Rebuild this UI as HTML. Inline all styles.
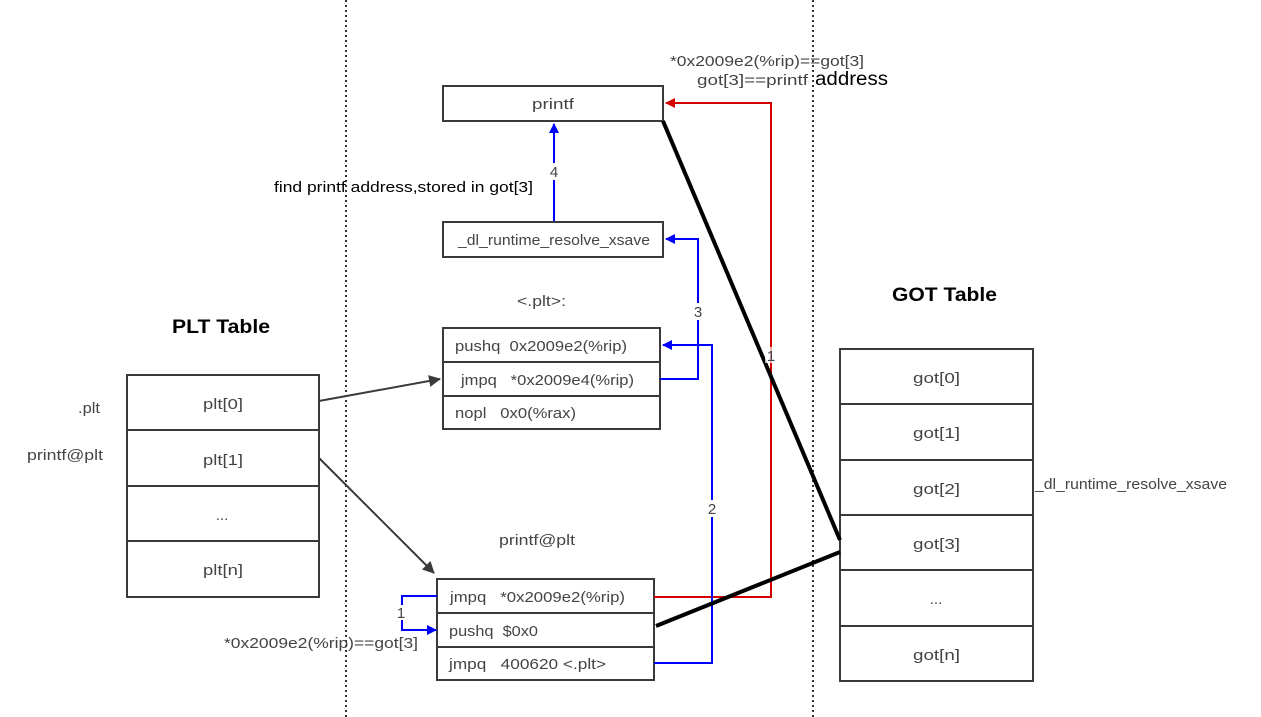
<!DOCTYPE html>
<html><head><meta charset="utf-8"><style>
html,body{margin:0;padding:0;background:#fff;}
svg{display:block;font-family:"Liberation Sans","DejaVu Sans",sans-serif;}
text{white-space:pre;}
.t{fill:#444;font-size:15px;text-anchor:middle;}
.l{fill:#444;font-size:15px;}
.box{fill:#fff;stroke:#3a3a3a;stroke-width:2;}
</style></head><body>
<svg width="1261" height="717" viewBox="0 0 1261 717" xmlns="http://www.w3.org/2000/svg" xml:space="preserve">
<defs>
<marker id="ab" markerWidth="10" markerHeight="10" refX="9" refY="5" orient="auto" markerUnits="userSpaceOnUse"><path d="M0,0 L10,5 L0,10 z" fill="#0000ff"/></marker>
<marker id="ar" markerWidth="10" markerHeight="10" refX="9" refY="5" orient="auto" markerUnits="userSpaceOnUse"><path d="M0,0 L10,5 L0,10 z" fill="#d40000"/></marker>
<marker id="ag" markerWidth="12" markerHeight="12" refX="11" refY="6" orient="auto" markerUnits="userSpaceOnUse"><path d="M0,0 L12,6 L0,12 z" fill="#3a3a3a"/></marker>
</defs>
<line x1="346" y1="0" x2="346" y2="717" stroke="#333" stroke-width="2" stroke-dasharray="2,3"/>
<line x1="813" y1="0" x2="813" y2="717" stroke="#333" stroke-width="2" stroke-dasharray="2,3"/>

<text class="l" x="670" y="66" textLength="194" lengthAdjust="spacingAndGlyphs">*0x2009e2(%rip)==got[3]</text>
<text class="l" x="697" y="85" textLength="111" lengthAdjust="spacingAndGlyphs">got[3]==printf</text>
<text x="815" y="85" font-size="19" fill="#000" textLength="73" lengthAdjust="spacingAndGlyphs">address</text>

<rect class="box" x="443" y="86" width="220" height="35"/>
<text class="t" x="553" y="109" textLength="42" lengthAdjust="spacingAndGlyphs">printf</text>
<rect class="box" x="443" y="222" width="220" height="35"/>
<text class="l" x="458" y="245" textLength="192" lengthAdjust="spacingAndGlyphs">_dl_runtime_resolve_xsave</text>
<text x="274" y="192" font-size="15" fill="#000" textLength="259" lengthAdjust="spacingAndGlyphs">find printf address,stored in got[3]</text>
<text class="l" x="517" y="306" textLength="49" lengthAdjust="spacingAndGlyphs">&lt;.plt&gt;:</text>

<rect class="box" x="443" y="328" width="217" height="101"/>
<line x1="443" y1="362" x2="660" y2="362" stroke="#3a3a3a" stroke-width="2"/>
<line x1="443" y1="396" x2="660" y2="396" stroke="#3a3a3a" stroke-width="2"/>
<text class="l" x="455" y="351" textLength="172" lengthAdjust="spacingAndGlyphs">pushq  0x2009e2(%rip)</text>
<text class="l" x="461" y="385" textLength="173" lengthAdjust="spacingAndGlyphs">jmpq   *0x2009e4(%rip)</text>
<text class="l" x="455" y="418" textLength="121" lengthAdjust="spacingAndGlyphs">nopl   0x0(%rax)</text>

<text x="172" y="333" font-size="19" font-weight="bold" fill="#000" textLength="98" lengthAdjust="spacingAndGlyphs">PLT Table</text>
<rect class="box" x="127" y="375" width="192" height="222"/>
<line x1="127" y1="430" x2="319" y2="430" stroke="#3a3a3a" stroke-width="2"/>
<line x1="127" y1="486" x2="319" y2="486" stroke="#3a3a3a" stroke-width="2"/>
<line x1="127" y1="541" x2="319" y2="541" stroke="#3a3a3a" stroke-width="2"/>
<text class="l" x="203" y="409" textLength="40" lengthAdjust="spacingAndGlyphs">plt[0]</text>
<text class="l" x="203" y="465" textLength="40" lengthAdjust="spacingAndGlyphs">plt[1]</text>
<text class="t" x="222" y="520" font-size="10">...</text>
<text class="l" x="203" y="575" textLength="40" lengthAdjust="spacingAndGlyphs">plt[n]</text>
<text class="l" x="78" y="413" textLength="22" lengthAdjust="spacingAndGlyphs">.plt</text>
<text class="l" x="27" y="460" textLength="76" lengthAdjust="spacingAndGlyphs">printf@plt</text>

<text x="892" y="301" font-size="19" font-weight="bold" fill="#000" textLength="105" lengthAdjust="spacingAndGlyphs">GOT Table</text>
<rect class="box" x="840" y="349" width="193" height="332"/>
<line x1="840" y1="404" x2="1033" y2="404" stroke="#3a3a3a" stroke-width="2"/>
<line x1="840" y1="460" x2="1033" y2="460" stroke="#3a3a3a" stroke-width="2"/>
<line x1="840" y1="515" x2="1033" y2="515" stroke="#3a3a3a" stroke-width="2"/>
<line x1="840" y1="570" x2="1033" y2="570" stroke="#3a3a3a" stroke-width="2"/>
<line x1="840" y1="626" x2="1033" y2="626" stroke="#3a3a3a" stroke-width="2"/>
<text class="l" x="913" y="383" textLength="47" lengthAdjust="spacingAndGlyphs">got[0]</text>
<text class="l" x="913" y="438" textLength="47" lengthAdjust="spacingAndGlyphs">got[1]</text>
<text class="l" x="913" y="494" textLength="47" lengthAdjust="spacingAndGlyphs">got[2]</text>
<text class="l" x="913" y="549" textLength="47" lengthAdjust="spacingAndGlyphs">got[3]</text>
<text class="t" x="936" y="604" font-size="10">...</text>
<text class="l" x="913" y="660" textLength="47" lengthAdjust="spacingAndGlyphs">got[n]</text>
<text class="l" x="1035" y="489" textLength="192" lengthAdjust="spacingAndGlyphs">_dl_runtime_resolve_xsave</text>

<text class="l" x="499" y="545" textLength="76" lengthAdjust="spacingAndGlyphs">printf@plt</text>
<rect class="box" x="437" y="579" width="217" height="101"/>
<line x1="437" y1="613" x2="654" y2="613" stroke="#3a3a3a" stroke-width="2"/>
<line x1="437" y1="647" x2="654" y2="647" stroke="#3a3a3a" stroke-width="2"/>
<text class="l" x="450" y="602" textLength="175" lengthAdjust="spacingAndGlyphs">jmpq   *0x2009e2(%rip)</text>
<text class="l" x="449" y="636" textLength="89" lengthAdjust="spacingAndGlyphs">pushq  $0x0</text>
<text class="l" x="449" y="669" textLength="157" lengthAdjust="spacingAndGlyphs">jmpq   400620 &lt;.plt&gt;</text>
<text class="l" x="224" y="648" textLength="194" lengthAdjust="spacingAndGlyphs">*0x2009e2(%rip)==got[3]</text>

<line x1="319" y1="401" x2="440" y2="379" stroke="#3a3a3a" stroke-width="2" marker-end="url(#ag)"/>
<line x1="319" y1="458" x2="434" y2="573" stroke="#3a3a3a" stroke-width="2" marker-end="url(#ag)"/>

<polyline points="654,597 771,597 771,103 666,103" fill="none" stroke="#d40000" stroke-width="2" marker-end="url(#ar)"/>
<polyline points="654,663 712,663 712,345 663,345" fill="none" stroke="#0000ff" stroke-width="2" marker-end="url(#ab)"/>
<polyline points="660,379 698,379 698,239 666,239" fill="none" stroke="#0000ff" stroke-width="2" marker-end="url(#ab)"/>
<line x1="554" y1="221" x2="554" y2="124" stroke="#0000ff" stroke-width="2" marker-end="url(#ab)"/>
<polyline points="437,596 402,596 402,630 436,630" fill="none" stroke="#0000ff" stroke-width="2" marker-end="url(#ab)"/>

<rect x="547" y="163" width="14" height="17" fill="#fff"/>
<text class="t" x="554" y="177">4</text>
<rect x="691" y="303" width="14" height="17" fill="#fff"/>
<text class="t" x="698" y="317">3</text>
<rect x="705" y="500" width="14" height="17" fill="#fff"/>
<text class="t" x="712" y="514">2</text>
<rect x="395" y="605" width="14" height="15" fill="#fff"/>
<text class="t" x="401" y="618">1</text>

<line x1="663" y1="121" x2="840" y2="540" stroke="#000" stroke-width="4"/>
<line x1="656" y1="626" x2="840" y2="552" stroke="#000" stroke-width="4"/>
<rect x="765" y="347" width="12" height="16" fill="#fff" opacity="0.7"/>
<text class="t" x="771" y="361">1</text>
</svg>
</body></html>
